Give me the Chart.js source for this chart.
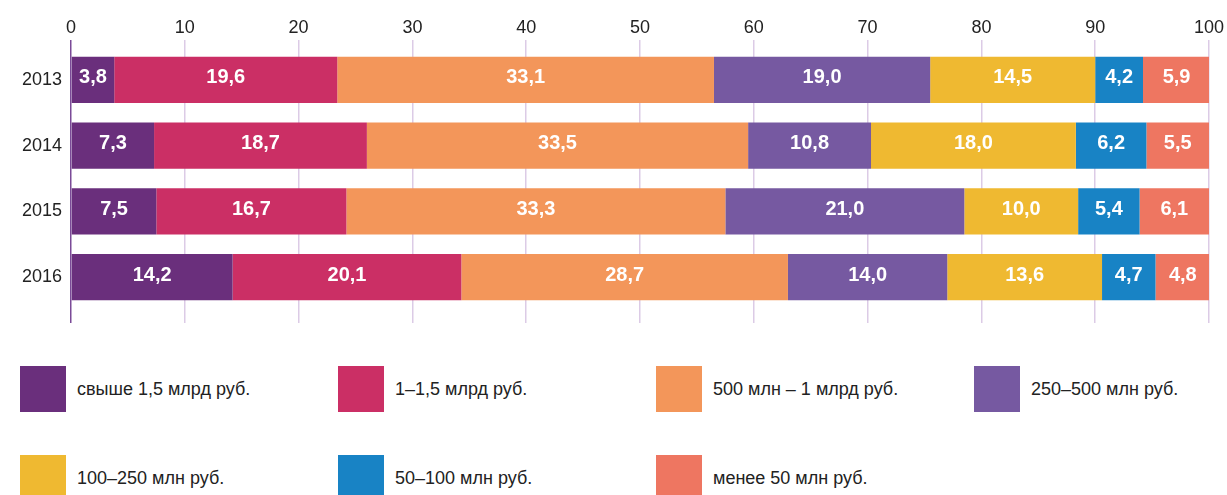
<!DOCTYPE html>
<html>
<head>
<meta charset="utf-8">
<script src="https://cdn.jsdelivr.net/npm/chart.js@4/dist/chart.umd.min.js"></script>
<style>
  body { margin: 0; background: #fff; font-family: "Liberation Sans", Arial, sans-serif; }
  #wrap { position: relative; width: 1227px; height: 495px; overflow: hidden; }
  #chartBox { position: absolute; left: 0; top: 0; width: 1227px; height: 335px; }
  .item { position: absolute; height: 46px; display: flex; align-items: center; }
  .swatch { width: 46px; height: 46px; margin-right: 11px; flex: none; }
  .label { font-size: 18px; color: #222; white-space: nowrap; }
</style>
</head>
<body>
<div id="wrap">
  <div id="chartBox"><canvas id="structureChart"></canvas></div>
  <div id="legend"></div>
</div>
<script>
// Categories (years) and the share of each group, %
const years = ['2013', '2014', '2015', '2016'];
const groupNames = [
    'свыше 1,5 млрд руб.',
    '1–1,5 млрд руб.',
    '500 млн – 1 млрд руб.',
    '250–500 млн руб.',
    '100–250 млн руб.',
    '50–100 млн руб.',
    'менее 50 млн руб.'
];
const groupColors = ['#6a2f7c', '#cb2f65', '#f3965a', '#7659a1', '#efb931', '#1883c5', '#ee7661'];

const over15bn   = [3.8, 7.3, 7.5, 14.2];
const from1to15  = [19.6, 18.7, 16.7, 20.1];
const from500to1 = [33.1, 33.5, 33.3, 28.7];
const from250    = [19.0, 10.8, 21.0, 14.0];
const from100    = [14.5, 18.0, 10.0, 13.6];
const from50     = [4.2, 6.2, 5.4, 4.7];
const under50    = [5.9, 5.5, 6.1, 4.8];
const seriesValues = [over15bn, from1to15, from500to1, from250, from100, from50, under50];

const xTicks = [0, 10, 20, 30, 40, 50, 60, 70, 80, 90, 100];

const gridColor = ctx => (ctx.tick && ctx.tick.value === 0) ? '#7b4a97' : '#dccbe6';

// white value labels in the middle of each segment
const segmentLabels = {
    id: 'segmentLabels',
    afterDatasetsDraw(chart) {
        const ctx = chart.ctx;
        ctx.save();
        ctx.font = 'bold 20px "Liberation Sans", Arial, sans-serif';
        ctx.fillStyle = '#ffffff';
        ctx.textAlign = 'center';
        ctx.textBaseline = 'middle';
        chart.data.datasets.forEach((ds, i) => {
            chart.getDatasetMeta(i).data.forEach((bar, j) => {
                const txt = ds.data[j].toFixed(1).replace('.', ',');
                ctx.fillText(txt, (bar.x + bar.base) / 2, bar.y - 2);
            });
        });
        ctx.restore();
    }
};

document.addEventListener('DOMContentLoaded', function () {
    let canvas = document.getElementById('structureChart');

    new Chart(canvas, {
        type: 'bar',
        data: {
            labels: years,
            datasets: seriesValues.map((vals, i) => ({
                label: groupNames[i],
                data: vals,
                backgroundColor: groupColors[i],
                borderWidth: 0,
                barPercentage: 0.7,
                categoryPercentage: 1.0
            }))
        },
        options: {
            indexAxis: 'y',
            responsive: true,
            maintainAspectRatio: false,
            animation: false,
            layout: { padding: { left: 0, top: 0, bottom: 0, right: 18 } },
            plugins: {
                legend: { display: false },
                tooltip: { enabled: false }
            },
            scales: {
                x: {
                    position: 'top',
                    stacked: true,
                    min: 0,
                    max: 100,
                    afterBuildTicks: s => { s.ticks = xTicks.map(v => ({ value: v })); },
                    afterFit: s => { s.height = 47; },
                    border: { display: false },
                    grid: { color: gridColor, lineWidth: 1.5, tickLength: 7 },
                    ticks: {
                        padding: 1,
                        color: '#222',
                        font: { family: '"Liberation Sans", Arial, sans-serif', size: 18 }
                    }
                },
                x2: {
                    position: 'bottom',
                    min: 0,
                    max: 100,
                    afterBuildTicks: s => { s.ticks = xTicks.map(v => ({ value: v })); },
                    afterFit: s => { s.height = 25; },
                    border: { display: false },
                    grid: { color: gridColor, lineWidth: 1.5, tickLength: 13, drawOnChartArea: false },
                    ticks: { display: false }
                },
                y: {
                    stacked: true,
                    afterFit: s => { s.width = 71; },
                    border: { display: false },
                    grid: { display: false, drawTicks: false },
                    ticks: {
                        padding: 9,
                        color: '#222',
                        font: { family: '"Liberation Sans", Arial, sans-serif', size: 18 }
                    }
                }
            }
        },
        plugins: [segmentLabels]
    });

    // legend below the chart, two rows of four columns
    const legend = document.getElementById('legend');
    const colX = [20, 338, 656, 974];
    const rowY = [366, 455];
    groupNames.forEach((name, i) => {
        const item = document.createElement('div');
        item.className = 'item';
        item.style.left = colX[i % 4] + 'px';
        item.style.top = rowY[Math.floor(i / 4)] + 'px';
        item.innerHTML = '<div class="swatch" style="background:' + groupColors[i] + '"></div>' +
            '<span class="label">' + name + '</span>';
        legend.appendChild(item);
    });
});
</script>
</body>
</html>
